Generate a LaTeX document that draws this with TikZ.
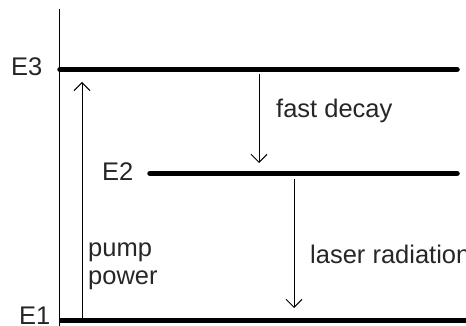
\documentclass[tikz,border=0pt]{standalone}
\usepackage{fontspec}
\setmainfont{Liberation Sans}
\usetikzlibrary{arrows.meta}
\begin{document}
\begin{tikzpicture}[x=1pt,y=-1pt,
  level/.style={line width=5.5pt,line cap=round},
  axis/.style={line width=1pt},
  trans/.style={line width=1pt,-{Straight Barb[length=8pt,width=16pt,line width=1pt]}},
  lbl/.style={inner sep=0pt,anchor=base west,font=\fontsize{25.5}{29}\selectfont,text=black!85}]
\useasboundingbox (0,0) rectangle (466,326);
% axis
\coordinate (axtop) at (59,9);
\coordinate (axbot) at (59,330);
\draw[axis] (axtop) -- (axbot);
% levels
\coordinate (e3a) at (60,69.5);
\coordinate (e3b) at (457,69.5);
\coordinate (e2a) at (150,173.5);
\coordinate (e2b) at (457,173.5);
\coordinate (e1a) at (60,320.5);
\coordinate (e1b) at (480,320.5);
\draw[level] (e3a) -- (e3b);
\draw[level] (e2a) -- (e2b);
\draw[level,line cap=butt] (e1a) -- (e1b);
% labels
\node[lbl] (E3) at (11,76) {E3};
\node[lbl] (E2) at (102,180) {E2};
\node[lbl] (E1) at (19,324) {E1};
% transitions
\coordinate (p0) at (82,318);
\coordinate (p1) at (82,82);
\draw[trans] (p0) -- (p1);
\coordinate (f0) at (259,74);
\coordinate (f1) at (259,163);
\draw[trans] (f0) -- (f1);
\coordinate (l0) at (294,179);
\coordinate (l1) at (294,308);
\draw[trans] (l0) -- (l1);
\node[lbl] (fast) at (276,118) {fast decay};
\node[lbl] (laser) at (310,263) {laser radiation};
\node[lbl] (pump) at (88,256) {pump};
\node[lbl] (power) at (88,284) {power};
\end{tikzpicture}
\end{document}
